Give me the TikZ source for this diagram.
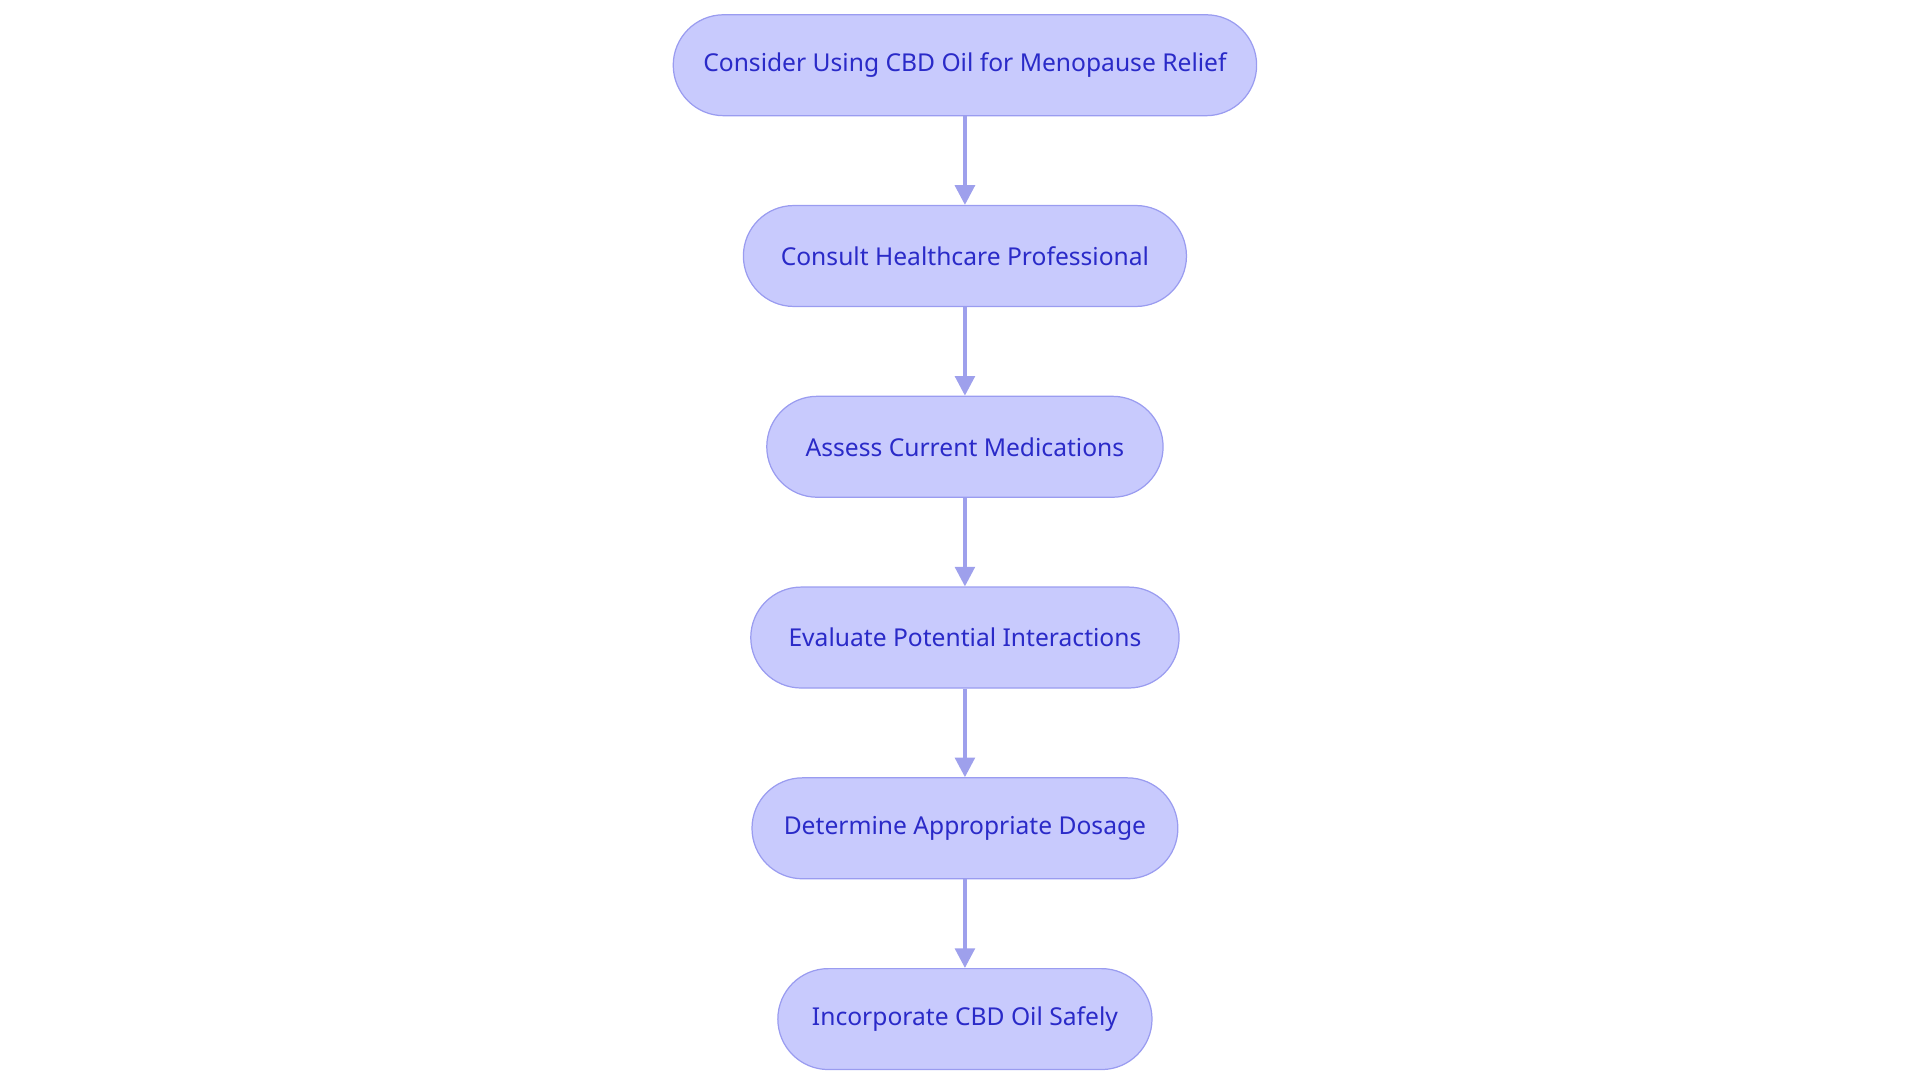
\documentclass[tikz,border=0pt]{standalone}
\usepackage{fontspec}
\setmainfont{Noto Sans}
\usetikzlibrary{arrows.meta}
\definecolor{stepfill}{HTML}{C8CAFD}
\definecolor{stepline}{HTML}{9A9CF0}
\definecolor{steptext}{HTML}{2A2AC8}
\definecolor{arrowcol}{HTML}{9EA0EC}
\tikzset{
	step/.style={draw=stepline, fill=stepfill, text=steptext, line width=1pt,
		rounded corners=41pt, minimum height=82pt, minimum width=#1,
		font=\fontsize{20}{24}\selectfont},
	flow/.style={draw=arrowcol, line width=3pt, -{Triangle[length=16pt,width=16pt]}}
}
\begin{document}
\begin{tikzpicture}[x=1pt,y=-1pt]
		\useasboundingbox (0,0) rectangle (1560,880);
		
		% Steps
		\node[step=474pt] (consider) at (784,53) {Consider Using CBD Oil for Menopause Relief};
		\node[step=360pt] (consult) at (784,208) {Consult Healthcare Professional};
		\node[step=322pt] (assess) at (784,363) {Assess Current Medications};
		\node[step=348pt] (evaluate) at (784,518) {Evaluate Potential Interactions};
		\node[step=346pt] (dosage) at (784,673) {Determine Appropriate Dosage};
		\node[step=304pt] (incorporate) at (784,828) {Incorporate CBD Oil Safely};
		
		% Arrows between steps
		\draw[flow] (consider) -- (consult);
		\draw[flow] (consult) -- (assess);
		\draw[flow] (assess) -- (evaluate);
		\draw[flow] (evaluate) -- (dosage);
		\draw[flow] (dosage) -- (incorporate);
		
	\end{tikzpicture}
\end{document}
